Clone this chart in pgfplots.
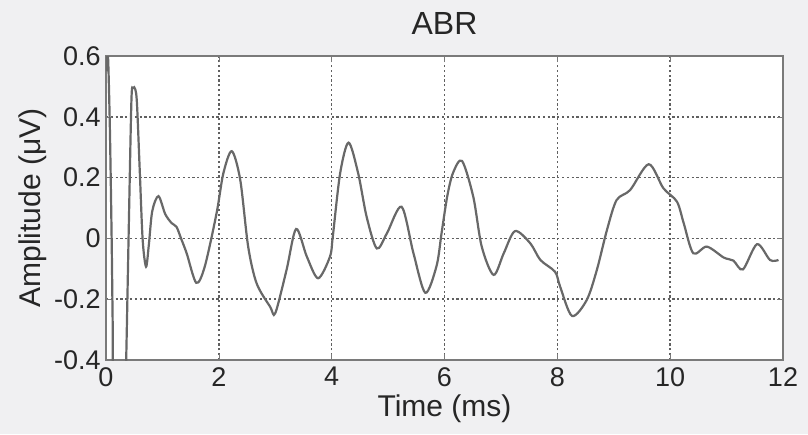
\documentclass[border=0pt]{standalone}
\usepackage{fontspec}
\setmainfont{Liberation Sans}
\usepackage{pgfplots}
\pgfplotsset{compat=1.18}
\definecolor{bg}{HTML}{F0F0F2}
\definecolor{axc}{HTML}{7A7A7A}
\definecolor{curve}{HTML}{686868}
\definecolor{txt}{HTML}{262626}
\begin{document}
\begin{tikzpicture}
\fill[bg] (-53pt,-37pt) rectangle (351pt,180pt);
\begin{axis}[
  scale only axis,
  width=338.5pt, height=152pt,
  xmin=0, xmax=12, ymin=-0.4, ymax=0.6,
  xtick={0,2,...,12},
  ytick={-0.4,-0.2,0,0.2,0.4,0.6},
  yticklabels={-0.4,-0.2,0,0.2,0.4,0.6},
  xticklabels={0,2,4,6,8,10,12},
  tick align=inside,
  tick pos=both,
  major tick length=3pt,
  tick style={axc},
  axis line style={axc, line width=0.8pt},
  axis background/.style={fill=white},
  grid=major,
  major grid style={dash pattern=on 1.1pt off 1.3pt, color=gray!75!black, line width=0.8pt},
  ticklabel style={font=\fontsize{13.5}{14}\selectfont, text=txt},
  xticklabel style={inner sep=0pt, yshift=-3.5pt},
  yticklabel style={inner sep=0pt, xshift=-2.5pt},
  title={ABR},
  title style={font=\fontsize{16}{17}\selectfont, text=txt, at={(axis description cs:0.5,1.069)}, anchor=center},
  xlabel={Time (ms)},
  ylabel={Amplitude (μV)},
  label style={font=\fontsize{15}{16}\selectfont, text=txt},
  xlabel style={at={(axis description cs:0.5,-0.161)}, anchor=center},
  ylabel style={at={(axis description cs:-0.108,0.5)}, anchor=center},
  clip=true,
]
\addplot[curve, line width=1.1pt, smooth, tension=0.5] coordinates {
(0,0.55) (0.02,0.62) (0.04,0.58) (0.07,0.35) (0.10,0.0) (0.12,-0.3) (0.14,-0.5)
(0.33,-0.5) (0.355,-0.42) (0.40,0.0) (0.45,0.45) (0.48,0.495) (0.52,0.49) (0.55,0.44)
(0.60,0.215) (0.65,-0.005) (0.71,-0.093) (0.76,-0.02) (0.82,0.09) (0.93,0.139)
(1.05,0.08) (1.165,0.05) (1.25,0.038) (1.33,0.0) (1.43,-0.049) (1.60,-0.146)
(1.75,-0.093) (1.96,0.083) (2.08,0.214) (2.23,0.287) (2.38,0.192) (2.52,-0.027)
(2.67,-0.148) (2.91,-0.225) (3.00,-0.246) (3.20,-0.104) (3.37,0.031) (3.56,-0.06)
(3.76,-0.131) (3.97,-0.06) (4.02,0.006) (4.15,0.214) (4.30,0.315) (4.47,0.214)
(4.62,0.071) (4.80,-0.033) (4.98,0.017) (5.24,0.104) (5.45,-0.049) (5.66,-0.179)
(5.86,-0.09) (5.95,0.02) (6.05,0.14) (6.15,0.215) (6.31,0.255) (6.51,0.137)
(6.66,-0.027) (6.87,-0.12) (7.05,-0.049) (7.25,0.024) (7.52,-0.016) (7.70,-0.071)
(7.96,-0.11) (8.05,-0.159) (8.26,-0.255) (8.52,-0.203) (8.70,-0.104) (8.88,0.028)
(9.05,0.126) (9.29,0.159) (9.62,0.244) (9.88,0.165) (10.12,0.121) (10.24,0.05)
(10.41,-0.049) (10.65,-0.027) (10.95,-0.063) (11.12,-0.073) (11.29,-0.102)
(11.54,-0.019) (11.77,-0.071) (11.92,-0.071)
};
\end{axis}
\pgfresetboundingbox
\useasboundingbox (-53pt,-37pt) rectangle (351pt,180pt);
\end{tikzpicture}
\end{document}
